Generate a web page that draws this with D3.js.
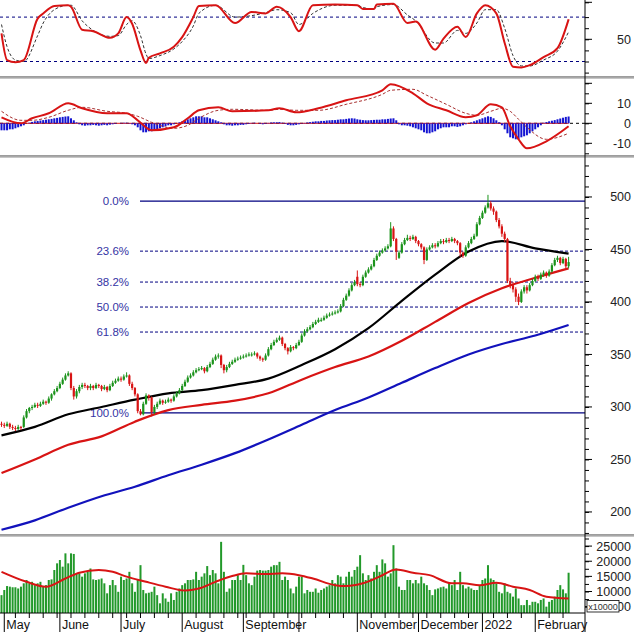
<!DOCTYPE html>
<html>
<head>
<meta charset="utf-8">
<script src="https://cdn.jsdelivr.net/npm/d3@7"></script>
<style>
  body { margin: 0; background: #fff; }
  svg { display: block; font-family: Arial, 'Liberation Sans', sans-serif; }
</style>
</head>
<body>
<div id="app"></div>
<script>
// daily bars, Apr 29 2021 .. Feb 23 2022 (205 sessions)
const opens = [284,283,282,284,281,280,279,281,281,290,
  296,299,300,302,301,303,305,304,308,312,
  315,318,322,326,330,332,318,310,315,319,
  321,320,318,320,318,321,320,317,319,316,
  320,323,325,327,326,329,330,322,318,312,
  296,293,303,311,309,295,300,303,306,304,
  305,307,306,310,313,316,320,324,328,330,
  333,335,336,337,334,338,341,345,348,349,
  340,335,338,341,343,345,346,347,348,349,
  350,350,351,348,346,345,349,355,359,362,
  364,366,360,356,353,357,356,359,362,368,
  372,374,376,379,381,383,383,385,387,388,
  389,390,391,396,402,406,411,416,424,417,
  416,424,428,431,434,440,444,447,449,451,
  453,470,460,442,447,455,459,461,460,462,
  458,455,452,440,450,452,454,453,456,458,
  457,459,458,460,458,456,447,444,452,456,
  460,463,474,480,485,490,494,489,486,478,
  472,465,460,420,416,412,405,400,410,414,
  411,416,420,424,422,426,428,425,429,435,
  440,442,437,441,434]
const closes = [283,282,284,281,280,279,281,280,290,296,
  299,300,302,301,303,305,304,308,312,315,
  318,322,326,330,332,318,310,315,319,321,
  320,318,320,318,321,320,317,319,316,320,
  323,325,327,326,329,330,322,318,312,296,
  293,303,311,309,295,300,303,306,304,305,
  307,306,310,313,316,320,324,328,330,333,
  335,336,337,334,338,341,345,348,349,340,
  335,338,341,343,345,346,347,348,349,350,
  350,351,348,346,345,349,355,359,362,364,
  366,360,356,353,357,356,359,362,368,372,
  374,376,379,381,383,383,385,387,388,389,
  390,391,396,402,406,411,416,419,417,416,
  424,428,431,434,440,444,447,449,451,453,
  470,460,448,447,455,459,461,460,462,458,
  455,452,440,450,452,454,453,456,458,457,
  459,458,460,458,456,447,444,452,456,460,
  463,474,480,485,490,494,489,486,478,472,
  465,460,420,416,412,405,400,410,414,411,
  416,420,424,422,426,428,425,429,435,440,
  442,437,441,434,438]
const highs = [286,285,286,285,283,282,283,282,292,298,
  300,302,304,304,305,307,306,310,313,317,
  320,324,328,332,334,333,320,317,321,323,
  323,321,322,321,323,322,321,321,320,322,
  325,327,329,329,331,333,331,324,319,313,
  298,305,313,312,310,302,305,308,307,307,
  309,308,312,315,318,322,326,330,332,335,
  337,338,339,338,340,343,347,350,351,350,
  341,340,343,345,347,348,349,350,351,352,
  352,353,352,349,347,351,357,361,364,366,
  368,367,361,357,359,358,361,364,370,374,
  376,378,381,383,385,385,387,389,390,391,
  392,393,398,404,408,413,418,421,430,419,
  426,430,433,436,442,446,449,451,453,455,
  476,472,461,449,457,461,464,463,464,463,
  459,456,453,452,454,456,456,458,460,460,
  461,461,462,461,459,457,448,454,458,462,
  465,476,482,487,492,502,496,491,487,480,
  474,467,461,423,419,414,408,412,416,416,
  418,422,426,426,428,430,429,431,437,442,
  444,443,443,442,443]
const lows = [281,280,281,279,278,277,278,278,280,289,
  294,297,299,299,300,302,302,303,306,311,
  314,317,321,325,329,316,307,308,313,317,
  318,316,316,316,317,318,315,316,314,315,
  319,322,324,324,325,328,320,316,310,294,
  292,292,302,306,291,293,298,302,302,303,
  304,304,305,309,312,315,319,323,327,329,
  332,334,335,332,333,337,340,344,346,337,
  332,333,337,340,342,344,345,346,347,348,
  348,349,346,344,343,344,348,354,358,361,
  363,358,354,350,352,354,355,358,361,367,
  371,373,375,378,380,381,382,384,386,387,
  388,389,390,395,401,405,410,415,415,414,
  415,423,427,430,433,439,443,446,448,450,
  452,458,440,441,446,454,458,458,459,456,
  453,450,436,439,449,451,451,452,455,455,
  456,456,457,456,454,443,442,443,451,455,
  459,462,473,479,484,489,487,483,476,470,
  462,457,418,413,409,400,397,399,408,408,
  410,415,419,420,421,424,423,424,428,434,
  438,435,436,432,432]
const volumes = [8800,10500,11800,11600,11400,11400,11000,11600,12700,13800,
  12700,13200,12100,12700,13200,11600,12100,13800,14000,17100,
  19300,20400,18200,22600,19300,22600,22400,16000,16000,14900,
  16000,16500,17600,14000,13800,14000,14300,12700,9400,12100,
  13800,12100,9900,14900,13800,14300,16500,12700,9900,13800,
  18700,10500,9400,9600,9900,11600,8800,6100,9400,7700,
  6600,9400,7200,9900,11000,12100,12700,13800,13800,14000,
  16500,13800,14900,16000,18400,15400,17100,16000,12700,26400,
  16500,9900,11000,13800,13800,15400,13800,18800,15400,12700,
  12100,14900,16900,17100,16900,16900,17100,18200,18700,18700,
  19800,13800,14900,13800,11000,9400,11600,14900,14900,9400,
  10500,9900,9900,11000,9600,10500,11000,11600,12100,13800,
  12700,15400,14900,12700,14900,16500,14900,17100,18200,22000,
  16000,13800,15400,14300,16500,18700,16500,20600,19300,14900,
  16000,25300,17600,11600,10500,10500,13800,13800,12700,13800,
  12700,14900,12700,12100,10500,8800,10700,11000,11400,11600,
  11000,12700,12100,13800,10500,16500,12100,11000,11600,11000,
  10500,10500,12100,13800,14300,18700,14300,13800,12700,9900,
  9400,12700,9900,9400,8300,11000,7700,5500,5500,7200,
  5500,6600,6600,6100,7200,7700,5000,6600,7200,8300,
  10500,12100,10700,9400,16200]
const macdHist = [-3.5,-3.5,-3.5,-3,-3,-2.5,-2,-1.5,-1,
  0,0.3,0.7,1,1.2,1.4,1.6,1.8,2,2.2,2.5,2.7,3,3.2,3.4,3.5,2.5,1.5,0.5,
  -0.5,-1,-1.2,-1,-1,-0.8,-1,-1.2,-1,-0.8,-1,-0.7,-0.5,-0.3,0,
  0.2,0.3,0.3,-0.2,-0.5,
  -1,-2,-3.5,-4.5,-4.5,-4,-4,-3.5,-3,-2.5,-2,-1.5,-1,-1,-0.5,
  0,0.5,1,1.5,2,2.5,3,3.5,3.5,3.5,3,3,2.5,2,1.5,1,0.5,
  -0.5,-1,-1,-1.2,-1,-1,-0.8,-0.8,-0.5,-0.3,
  0.2,0.3,0,-0.3,-0.5,-0.3,0.2,0.4,0.5,0.5,0.6,0.3,-0.3,-0.8,-1,-1,-0.8,-0.5,-0.2,0.2,0.4,0.6,
  0.8,1,1,1.2,1.2,1.4,1.5,1.6,1.6,1.8,2,2,2.2,2.4,2.5,2.4,2,1.8,1.6,1.5,1.5,1.6,1.7,1.8,1.8,2,2,2.2,2.4,2.5,1.5,
  -0.5,-1,-1,-1.2,-1.5,-2,-2.5,-3,-3.5,-4.5,-5,-5,-4.5,-4,-3,-2.5,-2,-2,-2,-1.5,-1.5,-1.8,-1.5,-1,-0.5,0,
  0.5,1,1.5,2,2.5,3,3.5,3.2,2.5,1.5,0.5,
  -1,-3,-5,-7,-7.5,-8,-8,-7,-6.5,-6,-5,-4,-3,-2,-1,
  0.3,0.6,1,1.3,1.6,2,2.4,2.8,3.2,3.4]

// smooth lines, read at these bar indexes
const maIdx = [0,12,24,36,48,60,72,84,96,108,120,132,144,156,168,180,192,204]
const ma50 = [273,281,293,300,307,313,316,321,327,340,355,375,401,426,448,458,451,446]
const ma100 = [237,250,264,272,286,297,302,306,313,326,338,348,363,381,399,413,423,432]
const ma200 = [183,192,204,215,224,235,245,256,269,283,297,309,323,337,350,360,368,378]

const stochIdx = [0,2,5,8,13,15,19,24,25,29,33,39,42,45,47,50,52,53,57,62,65,69,71,77,84,90,95,99,104,107,112,120,128,130,134,135,141,146,149,156,159,164,167,171,174,178,181,184,187,190,195,200,204]
const stochK = [58,22,19,22,78,85,95,96,94,63,61,52,58,80,71,35,18,25,31,40,53,80,95,96,72,87,85,94,80,61,96,97,96,91,91,97,98,72,74,36,51,67,53,85,96,85,45,13,12,15,26,38,77]
const stochD = [70,40,22,20,55,72,90,96,96,75,62,54,55,70,75,55,30,24,28,37,47,68,85,96,80,82,86,90,86,70,85,96,96,93,91,94,97,83,75,45,45,62,58,72,90,90,65,28,14,14,22,34,60]

const macdIdx = [0,7,11,17,24,29,38,45,49,54,62,67,71,78,83,96,100,106,114,124,137,140,148,153,160,167,171,176,180,183,186,189,196,204]
const macdLine = [3,0,2.5,5,10,7.5,5,5,1.5,-3.5,-2,2.5,6.5,8,6,6.5,7.5,5.5,7.5,11.5,16.5,19.5,15,10,6.5,3,4,9.5,8,-1.5,-8,-12.5,-9,-1.5]
const macdSignal = [6,1.5,1.5,3,6.5,8,6,5,3.5,0.5,-2.5,-1,2.5,6.5,7,6.5,7,6.5,6.5,9.5,14.5,16.5,17,14,9.5,5,4,6,7.5,6,2,-2,-8,-5]

const volMaIdx = [0,9,16,23,28,35,40,45,52,59,66,71,77,83,88,95,101,107,112,120,124,130,136,142,148,154,162,166,172,178,184,190,196,204]
const volMa = [16500,13200,11600,14300,16200,17100,16500,14900,13200,11600,10300,11000,13200,15100,16000,15800,16000,15400,14300,12100,11800,12700,14900,17300,16200,15400,12700,12700,12100,12900,11600,10500,8300,7700]

const fibLevels = [0, 23.6, 38.2, 50, 61.8, 100]
const fibLabels = ['0.0%', '23.6%', '38.2%', '50.0%', '61.8%', '100.0%']
const fibHigh = 496
const fibLow = 294.3

const monthIdx = [1, 21, 43, 65, 87, 107, 128, 150, 173, 192]
const monthLabels = ['May', 'June', 'July', 'August', 'September', '', 'November', 'December', '2022', 'February']
const weekIdx = [5,10,15,20,25,30,35,40,45,50,55,60,70,75,80,85,88,93,98,103,108,113,118,123,133,138,143,148,153,158,163,168,177,182,187,197,202]

const width = 634
const height = 632
const plotRight = 585
const green = '#1b931b'
const red = '#d81414'

const svg = d3.select('#app').append('svg')
  .attr('width', width)
  .attr('height', height)

const x = d3.scaleLinear().domain([0, 204]).range([1.5, 568.6])
const yStoch = d3.scaleLinear().domain([0, 100]).range([76.3, 2.3])
const yMacd = d3.scaleLinear().domain([-16, 22]).range([155.3, 79.3])
const yPrice = d3.scaleLinear().domain([179, 537.1]).range([534, 158])
const yVol = d3.scaleLinear().domain([2900, 28000]).range([613, 537])

const smooth = (xs, ys, yScale) => d3.line()
  .x(d => x(xs[d]))
  .y(d => yScale(ys[d]))
  .curve(d3.curveMonotoneX)(d3.range(xs.length))

const hline = (yy, x1, x2, color, dash, w) => svg.append('line')
  .attr('x1', x1).attr('x2', x2).attr('y1', yy).attr('y2', yy)
  .attr('stroke', color).attr('stroke-width', w || 1)
  .attr('stroke-dasharray', dash || null)

// ---- stochastic
hline(yStoch(80), 0, plotRight, '#000080', '3,3')
hline(yStoch(20), 0, plotRight, '#000080', '3,3')
svg.append('path').attr('d', smooth(stochIdx, stochD, yStoch))
  .attr('fill', 'none').attr('stroke', '#333').attr('stroke-width', 1).attr('stroke-dasharray', '3,2')
svg.append('path').attr('d', smooth(stochIdx, stochK, yStoch))
  .attr('fill', 'none').attr('stroke', red).attr('stroke-width', 2)

// ---- macd
hline(yMacd(0), 0, plotRight, '#000', '3,3')
hline(yMacd(0), 0, x(204), red, null, 1)
svg.append('g').selectAll('rect').data(macdHist).join('rect')
  .attr('x', (d, i) => x(i) - 1)
  .attr('width', 2)
  .attr('y', d => yMacd(Math.max(0, d)))
  .attr('height', d => Math.abs(yMacd(d) - yMacd(0)))
  .attr('fill', '#1414d2')
svg.append('path').attr('d', smooth(macdIdx, macdSignal, yMacd))
  .attr('fill', 'none').attr('stroke', '#a83030').attr('stroke-width', 1).attr('stroke-dasharray', '3,2')
svg.append('path').attr('d', smooth(macdIdx, macdLine, yMacd))
  .attr('fill', 'none').attr('stroke', red).attr('stroke-width', 2)

// ---- price: fibonacci retracement
fibLevels.forEach((lv, k) => {
  const p = fibHigh - (fibHigh - fibLow) * lv / 100
  const solid = lv === 0 || lv === 100
  hline(yPrice(p), 140, plotRight, '#000080', solid ? null : '3,2', solid ? 1.2 : 1)
  svg.append('text')
    .attr('x', 129).attr('y', yPrice(p)).attr('dy', '0.35em')
    .attr('text-anchor', 'end')
    .attr('font-size', 11.5)
    .attr('fill', '#3434a4')
    .text(fibLabels[k])
})

svg.append('path').attr('d', smooth(maIdx, ma200, yPrice))
  .attr('fill', 'none').attr('stroke', '#1212bc').attr('stroke-width', 2.2)
svg.append('path').attr('d', smooth(maIdx, ma100, yPrice))
  .attr('fill', 'none').attr('stroke', red).attr('stroke-width', 2.2)
svg.append('path').attr('d', smooth(maIdx, ma50, yPrice))
  .attr('fill', 'none').attr('stroke', '#000').attr('stroke-width', 2.2)

const candles = svg.append('g')
candles.selectAll('line').data(closes).join('line')
  .attr('x1', (d, i) => x(i)).attr('x2', (d, i) => x(i))
  .attr('y1', (d, i) => yPrice(highs[i]))
  .attr('y2', (d, i) => yPrice(lows[i]))
  .attr('stroke', (d, i) => d >= opens[i] ? green : red)
  .attr('stroke-width', 1)
candles.selectAll('rect').data(closes).join('rect')
  .attr('x', (d, i) => x(i) - 1.1)
  .attr('width', 2.2)
  .attr('y', (d, i) => yPrice(Math.max(d, opens[i])))
  .attr('height', (d, i) => Math.max(1, Math.abs(yPrice(d) - yPrice(opens[i]))))
  .attr('fill', (d, i) => d >= opens[i] ? green : red)

// ---- volume
svg.append('g').selectAll('rect').data(volumes).join('rect')
  .attr('x', (d, i) => x(i) - 1)
  .attr('width', 2)
  .attr('y', d => yVol(d))
  .attr('height', d => yVol.range()[0] - yVol(d))
  .attr('fill', '#22992a')
svg.append('path').attr('d', smooth(volMaIdx, volMa, yVol))
  .attr('fill', 'none').attr('stroke', red).attr('stroke-width', 2)

// ---- panel separators
;[77, 156, 535].forEach(yy => {
  hline(yy, 0, width, '#7c7c7c', null, 1.4)
  hline(yy + 1.4, 0, width, '#c6c6c6', null, 1.2)
})

// ---- right axes
const rightAxis = (scale, minor, major, fmt, bigTicks) => {
  const gMinor = svg.append('g').attr('transform', `translate(${plotRight},0)`)
    .call(d3.axisRight(scale).tickValues(minor).tickSize(4).tickFormat(''))
  gMinor.select('.domain').remove()
  const gMajor = svg.append('g').attr('transform', `translate(${plotRight},0)`)
    .call(d3.axisRight(scale).tickValues(major).tickSize(0).tickFormat(fmt))
  gMajor.select('.domain').remove()
  gMajor.selectAll('text')
    .attr('x', width - 3 - plotRight)
    .attr('text-anchor', 'end')
    .attr('font-size', 12.5)
    .attr('font-family', 'Arial, Liberation Sans, sans-serif')
    .attr('fill', '#222')
  bigTicks.forEach(v => {
    svg.append('line').attr('x1', plotRight).attr('x2', plotRight + 7)
      .attr('y1', scale(v)).attr('y2', scale(v)).attr('stroke', '#000')
  })
}

rightAxis(yStoch, [100, 80, 65, 50, 35, 20, 5], [50], d => d, [100, 50])
rightAxis(yMacd, d3.range(-15, 21, 5), [-10, 0, 10], d => d, [20, 10, 0, -10])
rightAxis(yPrice, d3.range(180, 531, 10), d3.range(200, 501, 50), d => d, d3.range(200, 501, 50))
rightAxis(yVol, d3.range(5000, 27501, 2500), d3.range(5000, 25001, 5000), d => d, d3.range(5000, 25001, 5000))

svg.append('line')
  .attr('x1', plotRight).attr('x2', plotRight)
  .attr('y1', 0).attr('y2', height)
  .attr('stroke', '#000')

// volume unit box
svg.append('rect')
  .attr('x', 587).attr('y', 600.5).attr('width', 32).attr('height', 11.5)
  .attr('fill', '#fff').attr('stroke', '#000').attr('stroke-width', 0.8)
svg.append('text')
  .attr('x', 603).attr('y', 609.5)
  .attr('text-anchor', 'middle')
  .attr('font-size', 9)
  .attr('fill', '#333')
  .text('x10000')

// ---- bottom date axis
hline(613, 0, plotRight, '#000')
const xAxis = svg.append('g')
xAxis.selectAll('line.week').data(weekIdx).join('line')
  .attr('class', 'week')
  .attr('x1', d => x(d)).attr('x2', d => x(d))
  .attr('y1', 613).attr('y2', 618)
  .attr('stroke', '#000')
xAxis.selectAll('line.month').data(monthIdx).join('line')
  .attr('class', 'month')
  .attr('x1', d => x(d)).attr('x2', d => x(d))
  .attr('y1', 613).attr('y2', height)
  .attr('stroke', '#000')
xAxis.selectAll('text').data(monthIdx).join('text')
  .attr('x', d => x(d) + 2)
  .attr('y', 629)
  .attr('font-size', 12.5)
  .attr('fill', '#111')
  .text((d, i) => monthLabels[i])
</script>
</body>
</html>
